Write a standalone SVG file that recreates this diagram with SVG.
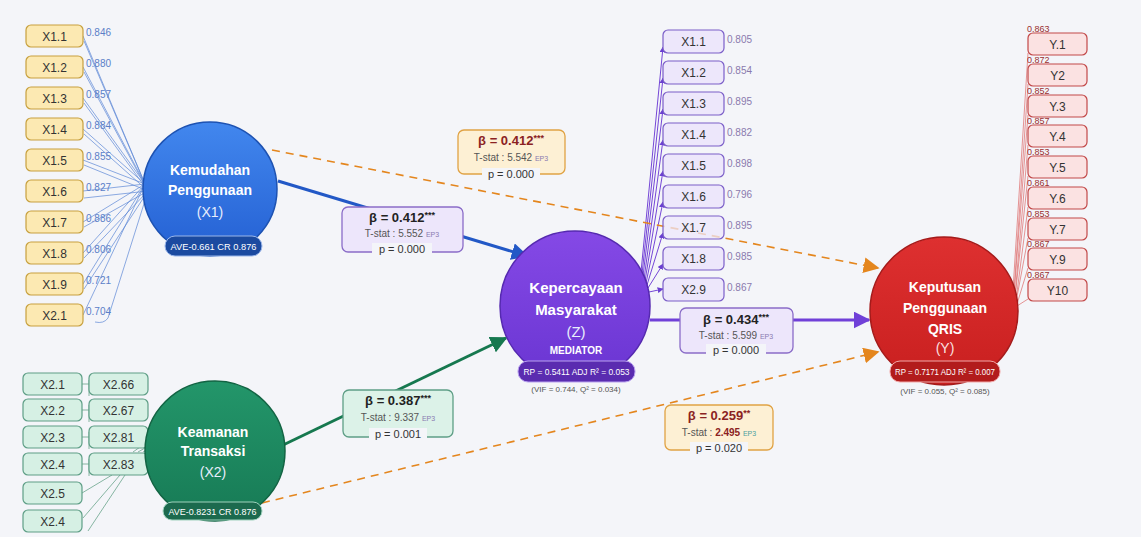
<svg xmlns="http://www.w3.org/2000/svg" width="1141" height="537" viewBox="0 0 1141 537">
<defs>
<linearGradient id="gBlue" x1="0" y1="0" x2="0" y2="1"><stop offset="0" stop-color="#4287ee"/><stop offset="1" stop-color="#2460d3"/></linearGradient>
<linearGradient id="gGreen" x1="0" y1="0" x2="0" y2="1"><stop offset="0" stop-color="#23966a"/><stop offset="1" stop-color="#177a55"/></linearGradient>
<linearGradient id="gPurple" x1="0" y1="0" x2="0" y2="1"><stop offset="0" stop-color="#8549e6"/><stop offset="1" stop-color="#6a35d2"/></linearGradient>
<linearGradient id="gRed" x1="0" y1="0" x2="0" y2="1"><stop offset="0" stop-color="#de3030"/><stop offset="1" stop-color="#c81f1f"/></linearGradient>
<marker id="aBlue" viewBox="0 0 10 10" refX="9" refY="5" markerWidth="17" markerHeight="17" markerUnits="userSpaceOnUse" orient="auto"><path d="M0,0 L10,5 L0,10 z" fill="#2258c6"/></marker>
<marker id="aGreen" viewBox="0 0 10 10" refX="9" refY="5" markerWidth="17" markerHeight="17" markerUnits="userSpaceOnUse" orient="auto"><path d="M0,0 L10,5 L0,10 z" fill="#16784f"/></marker>
<marker id="aPurple" viewBox="0 0 10 10" refX="9" refY="5" markerWidth="17" markerHeight="17" markerUnits="userSpaceOnUse" orient="auto"><path d="M0,0 L10,5 L0,10 z" fill="#7040d8"/></marker>
<marker id="aOrange" viewBox="0 0 10 10" refX="9" refY="5" markerWidth="16" markerHeight="16" markerUnits="userSpaceOnUse" orient="auto"><path d="M0,0 L10,5 L0,10 z" fill="#e4861e"/></marker>
<marker id="aSmall" viewBox="0 0 10 10" refX="9" refY="5" markerWidth="6" markerHeight="6" markerUnits="userSpaceOnUse" orient="auto"><path d="M0,0 L10,5 L0,10 z" fill="#6a3fd0"/></marker>
</defs>
<style>
text{font-family:"Liberation Sans",Arial,sans-serif}
.ib1{fill:#fce9b2;stroke:#c7a03e;stroke-width:1.2}
.ib2{fill:#d6f0e4;stroke:#5e9e86;stroke-width:1.2}
.ibz{fill:#ede7fb;stroke:#7b5ec8;stroke-width:1.2}
.iby{fill:#fbe2e2;stroke:#c24848;stroke-width:1.2}
.it{font-size:12px;fill:#333;text-anchor:middle}
.v1{font-size:10px;fill:#5b80c8}
.vz{font-size:10px;fill:#8a7aae}
.vy{font-size:9px;fill:#9a3030}
.l1{stroke:#5b86d6;stroke-width:0.7;fill:none}
.l2{stroke:#6aa58c;stroke-width:0.8;fill:none}
.lz{stroke:#7446d6;stroke-width:1;fill:none}
.ly{stroke:#e07878;stroke-width:0.8;fill:none}
.nt{font-size:14px;font-weight:bold;fill:#fff;text-anchor:middle}
.ns{font-size:14px;fill:#e8eefc;text-anchor:middle}
.pill{font-size:9.5px;fill:#fff;text-anchor:middle}
.sub{font-size:8px;fill:#555;text-anchor:middle}
.bp{fill:#ede6fb;stroke:#8a6cc8;stroke-width:1.3}
.bo{fill:#fdf0d4;stroke:#e0a244;stroke-width:1.3}
.bg{fill:#dcf2e8;stroke:#5e9e86;stroke-width:1.3}
.bt{font-size:13px;font-weight:bold;fill:#222;text-anchor:middle}
.btr{font-size:13px;font-weight:bold;fill:#8b2222;text-anchor:middle}
.ts{font-size:10px;fill:#555;text-anchor:middle}
.pv{font-size:11px;fill:#333;text-anchor:middle}
.ep{font-size:7px;fill:#8a7ab0}
.st{font-size:9px}
</style>
<rect x="0" y="0" width="1141" height="537" fill="#f4f5f9"/>

<g id="connectors">
<g id="x1-lines">
<path class="l1" d="M83,36 L145,184 M84,41 L148,191"/>
<path class="l1" d="M83,67 L145,184 M84,72 L148,191"/>
<path class="l1" d="M83,98 L145,184 M84,103 L148,191"/>
<path class="l1" d="M83,129 L145,184 M84,134 L148,191"/>
<path class="l1" d="M83,160 L145,184 M84,165 L148,191"/>
<path class="l1" d="M83,191 L145,184 M84,198 L148,191"/>
<path class="l1" d="M83,222 L145,184 M84,227 L148,191"/>
<path class="l1" d="M83,253 L145,184 M84,258 L148,191"/>
<path class="l1" d="M83,284 L145,184 M84,289 L148,191"/>
<path class="l1" d="M83,315 L145,184 M95,322 Q104,324 108,318 L148,191"/>
</g>
<g id="x2-lines">
<path class="l2" d="M82,384 L89,384 M89,380 L89,396"/>
<path class="l2" d="M82,410 L89,410 M89,405 L89,422"/>
<path class="l2" d="M82,437 L89,437 M89,432 L89,449"/>
<path class="l2" d="M82,464 L89,464 M89,459 L89,476"/>
<path class="l2" d="M82,493 L112,475 M83,518 L120,475 M88,531 L125,475"/>
<path class="l2" d="M133,452 L150,440 M138,452 L152,444 M143,452 L153,447"/>
</g>
<g id="z-lines">
<path class="lz" marker-end="url(#aSmall)" d="M641,272 L663,47"/>
<path class="lz" marker-end="url(#aSmall)" d="M642,274 L663,78"/>
<path class="lz" marker-end="url(#aSmall)" d="M643,276 L663,109"/>
<path class="lz" marker-end="url(#aSmall)" d="M644,279 L663,140"/>
<path class="lz" marker-end="url(#aSmall)" d="M645,281 L663,171"/>
<path class="lz" marker-end="url(#aSmall)" d="M646,283 L663,202"/>
<path class="lz" marker-end="url(#aSmall)" d="M647,285 L663,233"/>
<path class="lz" marker-end="url(#aSmall)" d="M648,288 L663,264"/>
<path class="lz" marker-end="url(#aSmall)" d="M649,292 L663,289"/>
</g>
<g id="y-lines">
<path class="ly" d="M1013,290 L1028,53"/>
<path class="ly" d="M1014,292 L1028,84"/>
<path class="ly" d="M1014,294 L1028,115"/>
<path class="ly" d="M1015,296 L1028,145"/>
<path class="ly" d="M1015,298 L1028,176"/>
<path class="ly" d="M1016,300 L1028,207"/>
<path class="ly" d="M1016,302 L1028,238"/>
<path class="ly" d="M1017,304 L1028,268"/>
<path class="ly" d="M1017,306 L1028,299"/>
</g>
<path d="M272,150 L878,268" stroke="#e4861e" stroke-width="1.6" stroke-dasharray="8,6" fill="none" marker-end="url(#aOrange)"/>
<path d="M262,503 L878,352" stroke="#e4861e" stroke-width="1.6" stroke-dasharray="8,6" fill="none" marker-end="url(#aOrange)"/>
<path d="M278,181 L527,256" stroke="#2258c6" stroke-width="3" fill="none" marker-end="url(#aBlue)"/>
<path d="M281,446 L506,338" stroke="#16784f" stroke-width="3" fill="none" marker-end="url(#aGreen)"/>
<path d="M650,320 L869,320" stroke="#7040d8" stroke-width="3" fill="none" marker-end="url(#aPurple)"/>
</g>

<g id="x1-indicators">
<rect class="ib1" x="26" y="25" width="57" height="22" rx="5"/><text class="it" x="54.5" y="40.5">X1.1</text><text class="v1" x="86" y="36">0.846</text>
<rect class="ib1" x="26" y="56" width="57" height="22" rx="5"/><text class="it" x="54.5" y="71.5">X1.2</text><text class="v1" x="86" y="67">0.880</text>
<rect class="ib1" x="26" y="87" width="57" height="22" rx="5"/><text class="it" x="54.5" y="102.5">X1.3</text><text class="v1" x="86" y="98">0.857</text>
<rect class="ib1" x="26" y="118" width="57" height="22" rx="5"/><text class="it" x="54.5" y="133.5">X1.4</text><text class="v1" x="86" y="129">0.884</text>
<rect class="ib1" x="26" y="149" width="57" height="22" rx="5"/><text class="it" x="54.5" y="164.5">X1.5</text><text class="v1" x="86" y="160">0.855</text>
<rect class="ib1" x="26" y="180" width="57" height="22" rx="5"/><text class="it" x="54.5" y="195.5">X1.6</text><text class="v1" x="86" y="191">0.827</text>
<rect class="ib1" x="26" y="211" width="57" height="22" rx="5"/><text class="it" x="54.5" y="226.5">X1.7</text><text class="v1" x="86" y="222">0.886</text>
<rect class="ib1" x="26" y="242" width="57" height="22" rx="5"/><text class="it" x="54.5" y="257.5">X1.8</text><text class="v1" x="86" y="253">0.806</text>
<rect class="ib1" x="26" y="273" width="57" height="22" rx="5"/><text class="it" x="54.5" y="288.5">X1.9</text><text class="v1" x="86" y="284">0.721</text>
<rect class="ib1" x="26" y="304" width="57" height="22" rx="5"/><text class="it" x="54.5" y="319.5">X2.1</text><text class="v1" x="86" y="315">0.704</text>
</g>

<g id="x2-indicators">
<rect class="ib2" x="23" y="373" width="59" height="22" rx="5"/><text class="it" x="52.5" y="388.5">X2.1</text>
<rect class="ib2" x="23" y="399" width="59" height="22" rx="5"/><text class="it" x="52.5" y="414.5">X2.2</text>
<rect class="ib2" x="23" y="426" width="59" height="22" rx="5"/><text class="it" x="52.5" y="441.5">X2.3</text>
<rect class="ib2" x="23" y="453" width="59" height="22" rx="5"/><text class="it" x="52.5" y="468.5">X2.4</text>
<rect class="ib2" x="23" y="482" width="59" height="22" rx="5"/><text class="it" x="52.5" y="497.5">X2.5</text>
<rect class="ib2" x="23" y="510" width="59" height="22" rx="5"/><text class="it" x="52.5" y="525.5">X2.4</text>
<rect class="ib2" x="89" y="373" width="59" height="22" rx="5"/><text class="it" x="118.5" y="388.5">X2.66</text>
<rect class="ib2" x="89" y="399" width="59" height="22" rx="5"/><text class="it" x="118.5" y="414.5">X2.67</text>
<rect class="ib2" x="89" y="426" width="59" height="22" rx="5"/><text class="it" x="118.5" y="441.5">X2.81</text>
<rect class="ib2" x="89" y="453" width="59" height="22" rx="5"/><text class="it" x="118.5" y="468.5">X2.83</text>
</g>

<g id="z-indicators">
<rect class="ibz" x="663" y="30" width="61" height="23" rx="5"/><text class="it" x="693.5" y="46">X1.1</text><text class="vz" x="727" y="43">0.805</text>
<rect class="ibz" x="663" y="61" width="61" height="23" rx="5"/><text class="it" x="693.5" y="77">X1.2</text><text class="vz" x="727" y="74">0.854</text>
<rect class="ibz" x="663" y="92" width="61" height="23" rx="5"/><text class="it" x="693.5" y="108">X1.3</text><text class="vz" x="727" y="105">0.895</text>
<rect class="ibz" x="663" y="123" width="61" height="23" rx="5"/><text class="it" x="693.5" y="139">X1.4</text><text class="vz" x="727" y="136">0.882</text>
<rect class="ibz" x="663" y="154" width="61" height="23" rx="5"/><text class="it" x="693.5" y="170">X1.5</text><text class="vz" x="727" y="167">0.898</text>
<rect class="ibz" x="663" y="185" width="61" height="23" rx="5"/><text class="it" x="693.5" y="201">X1.6</text><text class="vz" x="727" y="198">0.796</text>
<rect class="ibz" x="663" y="216" width="61" height="23" rx="5" fill-opacity="0.75"/><text class="it" x="693.5" y="232">X1.7</text><text class="vz" x="727" y="229">0.895</text>
<rect class="ibz" x="663" y="247" width="61" height="23" rx="5"/><text class="it" x="693.5" y="263">X1.8</text><text class="vz" x="727" y="260">0.985</text>
<rect class="ibz" x="663" y="278" width="61" height="23" rx="5"/><text class="it" x="693.5" y="294">X2.9</text><text class="vz" x="727" y="291">0.867</text>
</g>

<g id="y-indicators">
<text class="vy" x="1027" y="32">0.863</text><rect class="iby" x="1028" y="33" width="59" height="22" rx="5"/><text class="it" x="1057.5" y="48.5">Y.1</text>
<text class="vy" x="1027" y="63">0.872</text><rect class="iby" x="1028" y="64" width="59" height="22" rx="5"/><text class="it" x="1057.5" y="79.5">Y2</text>
<text class="vy" x="1027" y="94">0.852</text><rect class="iby" x="1028" y="95" width="59" height="22" rx="5"/><text class="it" x="1057.5" y="110.5">Y.3</text>
<text class="vy" x="1027" y="124">0.857</text><rect class="iby" x="1028" y="125" width="59" height="22" rx="5"/><text class="it" x="1057.5" y="140.5">Y.4</text>
<text class="vy" x="1027" y="155">0.853</text><rect class="iby" x="1028" y="156" width="59" height="22" rx="5"/><text class="it" x="1057.5" y="171.5">Y.5</text>
<text class="vy" x="1027" y="186">0.861</text><rect class="iby" x="1028" y="187" width="59" height="22" rx="5"/><text class="it" x="1057.5" y="202.5">Y.6</text>
<text class="vy" x="1027" y="217">0.853</text><rect class="iby" x="1028" y="218" width="59" height="22" rx="5"/><text class="it" x="1057.5" y="233.5">Y.7</text>
<text class="vy" x="1027" y="247">0.867</text><rect class="iby" x="1028" y="248" width="59" height="22" rx="5"/><text class="it" x="1057.5" y="263.5">Y.9</text>
<text class="vy" x="1027" y="278">0.867</text><rect class="iby" x="1028" y="279" width="59" height="22" rx="5"/><text class="it" x="1057.5" y="294.5">Y10</text>
</g>

<g id="x1">
<circle cx="210" cy="189" r="67" fill="url(#gBlue)" stroke="#1d52b2" stroke-width="1.5"/>
<text class="nt" x="210" y="175">Kemudahan</text>
<text class="nt" x="210" y="195">Penggunaan</text>
<text class="ns" x="210" y="217">(X1)</text>
<rect x="165" y="236" width="97" height="20" rx="10" fill="#1b4aa0" stroke="#9ab6ea" stroke-width="1"/>
<text class="pill" x="213.5" y="249.5" textLength="86" lengthAdjust="spacingAndGlyphs">AVE-0.661 CR 0.876</text>
</g>

<g id="x2">
<circle cx="215" cy="451" r="70" fill="url(#gGreen)" stroke="#126443" stroke-width="1.5"/>
<text class="nt" x="213" y="437">Keamanan</text>
<text class="nt" x="213" y="456">Transaksi</text>
<text class="ns" x="213" y="477">(X2)</text>
<rect x="163" y="502" width="99" height="18" rx="9" fill="#1c6a4e" stroke="#9fd2bd" stroke-width="1"/>
<text class="pill" x="212.5" y="514.5" textLength="88" lengthAdjust="spacingAndGlyphs">AVE-0.8231 CR 0.876</text>
</g>

<g id="z">
<circle cx="575" cy="306" r="75" fill="url(#gPurple)" stroke="#5529b0" stroke-width="1.5"/>
<text class="nt" x="576" y="293" style="font-size:15px">Kepercayaan</text>
<text class="nt" x="576" y="315" style="font-size:15px">Masyarakat</text>
<text class="ns" x="576" y="337" style="font-size:15px">(Z)</text>
<text class="nt" x="576" y="354" style="font-size:10px">MEDIATOR</text>
<rect x="518" y="361" width="117" height="21" rx="10" fill="#5a2cb0" stroke="#b9a2f0" stroke-width="1"/>
<text class="pill" x="576.5" y="375" textLength="106" lengthAdjust="spacingAndGlyphs">RP = 0.5411 ADJ R² = 0.053</text>
<text class="sub" x="576" y="392">(VIF = 0.744, Q² = 0.034)</text>
</g>

<g id="y">
<circle cx="944" cy="311" r="74" fill="url(#gRed)" stroke="#a51a1a" stroke-width="1.5"/>
<text class="nt" x="945" y="292">Keputusan</text>
<text class="nt" x="945" y="313">Penggunaan</text>
<text class="nt" x="945" y="334">QRIS</text>
<text class="ns" x="945" y="353" style="fill:#fbe0e0">(Y)</text>
<rect x="890" y="361" width="110" height="21" rx="10" fill="#b21c1c" stroke="#f2a8a8" stroke-width="1"/>
<text class="pill" x="945" y="375" textLength="100" lengthAdjust="spacingAndGlyphs">RP = 0.7171 ADJ R² = 0.007</text>
<text class="sub" x="945" y="394">(VIF = 0.055, Q² = 0.085)</text>
</g>

<g id="beta-x1-z">
<rect class="bp" x="342" y="207" width="121" height="45" rx="6"/>
<text class="bt" x="402" y="222">β = 0.412<tspan class="st" dy="-4">***</tspan></text>
<text class="ts" x="402" y="237">T-stat : 5.552 <tspan class="ep">EP3</tspan></text>
<rect x="372" y="243" width="60" height="12" fill="#f4f5f9"/>
<text class="pv" x="402" y="253">p = 0.000</text>
</g>

<g id="beta-x1-y">
<rect class="bo" x="458" y="130" width="107" height="44" rx="6"/>
<text class="btr" x="511" y="145">β = 0.412<tspan class="st" dy="-4">***</tspan></text>
<text class="ts" x="511" y="161">T-stat : 5.542 <tspan class="ep">EP3</tspan></text>
<rect x="482" y="168" width="58" height="12" fill="#f4f5f9"/>
<text class="pv" x="511" y="178">p = 0.000</text>
</g>

<g id="beta-x2-z">
<rect class="bg" x="343" y="390" width="110" height="47" rx="6"/>
<text class="bt" x="398" y="405">β = 0.387<tspan class="st" dy="-4">***</tspan></text>
<text class="ts" x="398" y="421">T-stat : 9.337 <tspan class="ep">EP3</tspan></text>
<rect x="369" y="428" width="58" height="12" fill="#f4f5f9"/>
<text class="pv" x="398" y="438">p = 0.001</text>
</g>

<g id="beta-z-y">
<rect class="bp" x="680" y="308" width="113" height="45" rx="6"/>
<text class="bt" x="736" y="324">β = 0.434<tspan class="st" dy="-4">***</tspan></text>
<text class="ts" x="736" y="339">T-stat : 5.599 <tspan class="ep">EP3</tspan></text>
<rect x="706" y="344" width="60" height="12" fill="#f4f5f9"/>
<text class="pv" x="736" y="354">p = 0.000</text>
</g>

<g id="beta-x2-y">
<rect class="bo" x="665" y="405" width="108" height="45" rx="6"/>
<text class="btr" x="719" y="420">β = 0.259<tspan class="st" dy="-4">**</tspan></text>
<text class="ts" x="719" y="436">T-stat : <tspan style="font-weight:bold;fill:#8b2222">2.495</tspan> <tspan class="ep" style="fill:#4aa0a0">EP3</tspan></text>
<rect x="690" y="442" width="58" height="12" fill="#f4f5f9"/>
<text class="pv" x="719" y="452">p = 0.020</text>
</g>
</svg>
